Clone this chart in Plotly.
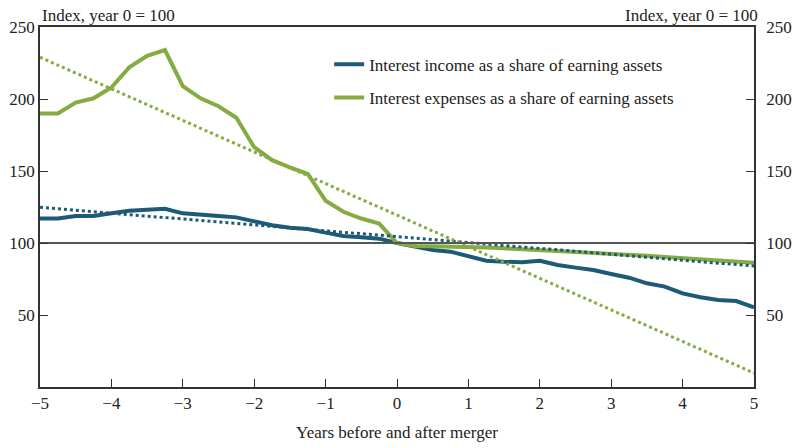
import plotly.graph_objects as go

years = [-5 + 0.25 * i for i in range(41)]

income = [117.1, 117.0, 118.7, 118.7, 120.6, 122.4, 123.1, 123.8, 120.6, 119.9,
          118.8, 117.8, 114.8, 112.3, 110.6, 109.7, 107.2, 104.9, 104.0, 103.0,
          100.0, 97.4, 95.1, 94.0, 91.0, 87.7, 87.0, 86.6, 87.7, 84.7,
          82.9, 81.3, 78.5, 75.9, 72.0, 69.7, 65.0, 62.3, 60.4, 59.7, 55.3]

expenses = [190.0, 190.0, 197.5, 200.5, 208.0, 222.0, 230.0, 234.0, 209.0, 200.5,
            195.0, 187.0, 166.5, 157.5, 152.5, 148.0, 129.4, 121.7, 117.0, 113.5,
            100.0, 98.0, 97.8, 97.6, 97.4, 96.9, 96.3, 95.7, 95.0, 94.5,
            94.0, 93.4, 92.8, 92.0, 91.2, 90.3, 89.4, 88.6, 87.8, 87.0, 86.3]

trend_x = [-5, 5]
income_trend = [124.8, 84.0]
expenses_trend = [229.0, 9.7]

baseline = 100
y_ticks = [50, 100, 150, 200, 250]
x_ticks = list(range(-5, 6))

BLUE = "#1d5a78"
GREEN = "#86ab43"
AX = "#333333"
FONT = "Liberation Serif"
FS = 17

fig = go.Figure()
fig.add_trace(go.Scatter(x=years, y=income, mode="lines",
                         line=dict(color=BLUE, width=4),
                         name="Interest income as a share of earning assets",
                         legendgroup="a"))
fig.add_trace(go.Scatter(x=years, y=expenses, mode="lines",
                         line=dict(color=GREEN, width=4),
                         name="Interest expenses as a share of earning assets",
                         legendgroup="b"))
fig.add_trace(go.Scatter(x=trend_x, y=income_trend, mode="lines",
                         line=dict(color=BLUE, width=3, dash="dot"),
                         showlegend=False))
fig.add_trace(go.Scatter(x=trend_x, y=expenses_trend, mode="lines",
                         line=dict(color=GREEN, width=3, dash="dot"),
                         showlegend=False))
fig.add_trace(go.Scatter(x=trend_x, y=[baseline, baseline], mode="lines",
                         line=dict(color="#555555", width=2),
                         showlegend=False, yaxis="y2", hoverinfo="skip"))

fig.update_layout(
    width=794, height=448,
    margin=dict(l=40, r=40, t=27, b=61),
    paper_bgcolor="white", plot_bgcolor="white",
    font=dict(family=FONT, size=FS, color="#222222"),
    showlegend=True,
    legend=dict(x=0.405, y=0.945, xanchor="left", yanchor="top",
                bgcolor="rgba(0,0,0,0)", font=dict(size=FS, family=FONT),
                traceorder="grouped", tracegroupgap=8),
    xaxis=dict(range=[-5, 5], tickvals=x_ticks, ticks="inside", ticklen=8,
               tickcolor=AX, showline=True, linecolor=AX, linewidth=1.5,
               mirror=True, showgrid=False, zeroline=False, automargin=False,
               title=dict(text="Years before and after merger",
                          font=dict(size=FS, family=FONT), standoff=14),
               tickfont=dict(size=FS, family=FONT)),
    yaxis=dict(range=[0, 250], tickvals=y_ticks, ticks="inside", ticklen=8,
               tickcolor=AX, showline=True, linecolor=AX, linewidth=1.5,
               showgrid=False, zeroline=False, automargin=False,
               tickfont=dict(size=FS, family=FONT)),
    yaxis2=dict(range=[0, 250], tickvals=y_ticks, ticks="inside", ticklen=8,
                tickcolor=AX, showline=True, linecolor=AX, linewidth=1.5,
                showgrid=False, zeroline=False, overlaying="y", side="right",
                automargin=False, ticklabelstandoff=7,
                tickfont=dict(size=FS, family=FONT)),
    annotations=[
        dict(text="Index, year 0 = 100", xref="paper", yref="paper",
             x=0.0, y=1.0, xanchor="left", yanchor="bottom", showarrow=False,
             font=dict(size=FS, family=FONT)),
        dict(text="Index, year 0 = 100", xref="paper", yref="paper",
             x=1.008, y=1.0, xanchor="right", yanchor="bottom", showarrow=False,
             font=dict(size=FS, family=FONT)),
    ],
)

fig.write_html("out.html",
               config={"displayModeBar": False},
               post_script="document.body.style.margin='0px';"
                           "document.body.style.overflow='hidden';")
